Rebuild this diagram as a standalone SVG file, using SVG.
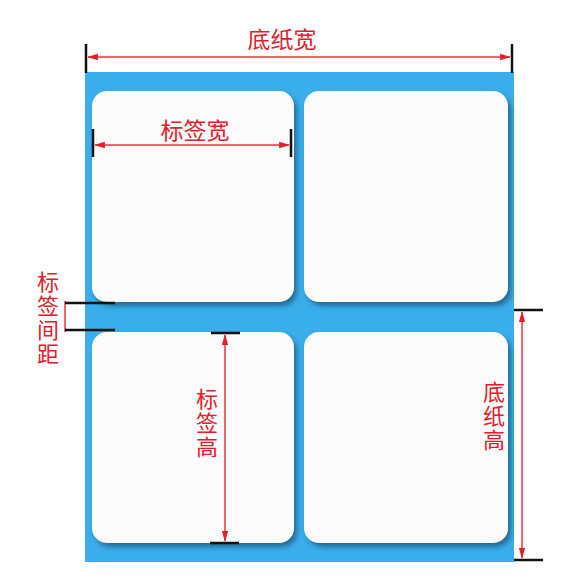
<svg xmlns="http://www.w3.org/2000/svg" width="570" height="577" viewBox="0 0 570 577">
<defs>
<style>
.lbl{fill:#fbfbfb;filter:url(#sh)}
.dim{stroke:#e8343a;stroke-width:1.5;fill:none}
.tick{stroke:#111;stroke-width:2.5}
.t{font-family:"Noto Sans CJK SC","Noto Sans",sans-serif;fill:#e0202a;font-size:23px}
.v{writing-mode:vertical-rl;font-size:22px;letter-spacing:2px}
</style>
<filter id="sh" x="-10%" y="-10%" width="130%" height="130%">
<feDropShadow dx="3" dy="4" stdDeviation="2.5" flood-color="#1d5f8a" flood-opacity="0.85"/>
</filter>
<marker id="ah" viewBox="0 0 12 10" refX="11" refY="5" markerWidth="8" markerHeight="6" orient="auto-start-reverse">
<path d="M0,1.5 L12,5 L0,8.5 z" fill="#e0202a"/>
</marker>
</defs>
<rect x="0" y="0" width="570" height="577" fill="#ffffff"/>
<g id="sheet">
<rect x="85" y="72" width="429" height="490" fill="#3aaeea"/>
</g>
<g id="label-tl"><rect class="lbl" x="92" y="91" width="202" height="211" rx="15"/></g>
<g id="label-tr"><rect class="lbl" x="304" y="91" width="204" height="211" rx="15"/></g>
<g id="label-bl"><rect class="lbl" x="92" y="332" width="202" height="211" rx="15"/></g>
<g id="label-br"><rect class="lbl" x="304" y="332" width="204" height="211" rx="15"/></g>
<g id="connectors">
<line class="tick" x1="86" y1="44" x2="86" y2="73"/>
<line class="tick" x1="512" y1="44" x2="512" y2="73"/>
<line class="dim" x1="88" y1="57" x2="510" y2="57" marker-start="url(#ah)" marker-end="url(#ah)"/>
<line class="tick" x1="93" y1="129" x2="93" y2="157"/>
<line class="tick" x1="291" y1="129" x2="291" y2="157"/>
<line class="dim" x1="95" y1="145" x2="289" y2="145" marker-start="url(#ah)" marker-end="url(#ah)"/>
<line class="dim" x1="65" y1="301" x2="65" y2="332"/>
<line class="tick" x1="65" y1="303" x2="115" y2="303"/>
<line class="tick" x1="65" y1="330" x2="115" y2="330"/>
<line class="tick" x1="211" y1="333" x2="240" y2="333"/>
<line class="tick" x1="210" y1="543" x2="239" y2="543"/>
<line class="dim" x1="225" y1="335" x2="225" y2="541" marker-start="url(#ah)" marker-end="url(#ah)"/>
<line class="tick" x1="514" y1="310" x2="543" y2="310"/>
<line class="tick" x1="514" y1="560" x2="543" y2="560"/>
<line class="dim" x1="522" y1="312" x2="522" y2="558" marker-start="url(#ah)" marker-end="url(#ah)"/>
</g>
<g id="texts">
<text class="t" x="282" y="48" text-anchor="middle">底纸宽</text>
<text class="t" x="195" y="139" text-anchor="middle">标签宽</text>
<text class="t v" x="48" y="271">标签间距</text>
<text class="t v" x="207" y="388">标签高</text>
<text class="t v" x="494" y="381">底纸高</text>
</g>
</svg>
